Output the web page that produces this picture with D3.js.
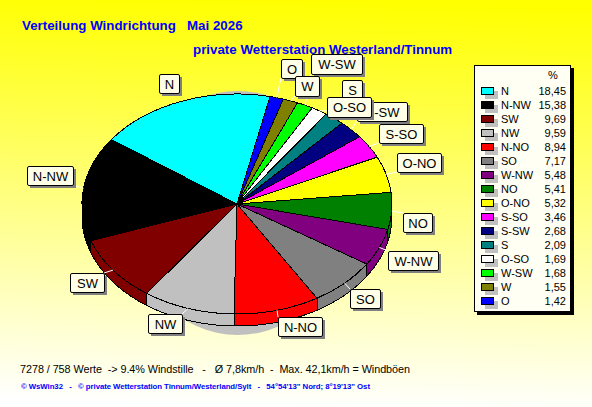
<!DOCTYPE html>
<html><head><meta charset="utf-8">
<script src="https://cdn.jsdelivr.net/npm/d3@7/dist/d3.min.js"></script>
<style>
html,body{margin:0;padding:0;background:#fff}
svg{display:block}
text{font-family:"Liberation Sans",Arial,sans-serif}
</style></head><body>
<svg id="c" width="592" height="407"></svg>
<script>
const directions = ["N","N-NW","SW","NW","N-NO","SO","W-NW","NO","O-NO","S-SO","S-SW","S","O-SO","W-SW","W","O"];
const shares = [18.45,15.38,9.69,9.59,8.94,7.17,5.48,5.41,5.32,3.46,2.68,2.09,1.69,1.68,1.55,1.42];
const sliceColors = ["#00FFFF","#000000","#800000","#C0C0C0","#FF0000","#808080","#800080","#008000","#FFFF00","#FF00FF","#000080","#008080","#FFFFFF","#00FF00","#808000","#0000FF"];
const titleText = "Verteilung Windrichtung   Mai 2026";
const subtitleText = "private Wetterstation Westerland/Tinnum";
const statsText = "7278 / 758 Werte  -> 9.4% Windstille   -   Ø 7,8km/h  -  Max. 42,1km/h = Windböen";
const footerText = "© WsWin32   -   © private Wetterstation Tinnum/Westerland/Sylt   -   54°54'13\" Nord; 8°19'13\" Ost";

// label box layout: x, y, w, h per direction
const labelBoxes = {
  "N":[159,74,20,19],"N-NW":[27,166,46,19],"SW":[70,273,34,19],"NW":[148,314,34,19],
  "N-NO":[278,317,44,19],"SO":[350,289,30,19],"W-NW":[388,251,50,19],"NO":[403,213,29,19],
  "O-NO":[397,153,44,19],"S-SO":[379,124,44,19],"S-SW":[357,102,50,19],"S":[342,80,20,20],
  "O-SO":[327,97,44,20],"W-SW":[311,54,51,20],"W":[295,76,24,20],"O":[281,59,21,19]
};
const labelOrder = ["N","N-NW","SW","NW","N-NO","SO","W-NW","NO","O-NO","S-SO","S-SW","S","W-SW","O","W","O-SO"];
const noLeader = ["N"];

const W = 592, H = 407;
const cx = 237, cy = 204, rx = 155, ry = 110, depth = 12;
const startA = 12.3 * Math.PI / 180;

const svg = d3.select("#c");
const defs = svg.append("defs");
const grad = defs.append("linearGradient").attr("id","bg").attr("x1",0.52).attr("y1",0).attr("x2",0.48).attr("y2",1);
grad.append("stop").attr("offset",0).attr("stop-color","#FFFF00");
grad.append("stop").attr("offset",1).attr("stop-color","#FFFFFF");
svg.append("rect").attr("width",W).attr("height",H).attr("fill","url(#bg)");

// titles
svg.append("text").attr("x",22).attr("y",30).attr("fill","#0000FF").attr("font-size",13.33).attr("font-weight","bold").attr("xml:space","preserve").text(titleText);
svg.append("text").attr("x",193).attr("y",54).attr("fill","#0000FF").attr("font-size",13.33).attr("font-weight","bold").text(subtitleText);

// pie drop shadow
svg.append("ellipse").attr("cx",238).attr("cy",213).attr("rx",110).attr("ry",122).attr("fill","#C0C0C0");

const pie = d3.pie().sort(null).value(d => d.v).startAngle(startA).endAngle(startA - 2*Math.PI);
const arcs = pie(directions.map((n,i)=>({n,v:shares[i],c:sliceColors[i]})));
const arcGen = d3.arc().innerRadius(0).outerRadius(rx);
const px = a => cx + rx*Math.sin(a);
const py = a => cy - ry*Math.cos(a);

// extruded rim (lower half only)
const rim = svg.append("g").attr("shape-rendering","crispEdges");
arcs.forEach(d => {
  const hi = Math.max(d.startAngle,d.endAngle), lo = Math.min(d.startAngle,d.endAngle);
  const a0 = Math.max(lo, -3*Math.PI/2), a1 = Math.min(hi, -Math.PI/2);
  if (a1 > a0) {
    const n = Math.max(2,Math.ceil((a1-a0)*60));
    const as = d3.range(n+1).map(i=>a0+(a1-a0)*i/n);
    const top = as.map(a=>[px(a),py(a)]);
    const bot = as.slice().reverse().map(a=>[px(a),py(a)+depth]);
    rim.append("path").attr("d",d3.line()(top.concat(bot))+"Z").attr("fill",d.data.c).attr("stroke","#000").attr("stroke-width",1);
  }
});

// top face
const topFace = svg.append("g").attr("transform",`translate(${cx},${cy}) scale(1,${ry/rx})`).attr("shape-rendering","crispEdges");
topFace.selectAll("path").data(arcs).join("path")
  .attr("d",arcGen).attr("fill",d=>d.data.c).attr("stroke","#000").attr("stroke-width",1).attr("vector-effect","non-scaling-stroke");

// leader lines
const leaders = svg.append("g");
arcs.filter(d=>!noLeader.includes(d.data.n)).forEach(d=>{
  const m = (d.startAngle+d.endAngle)/2, b = labelBoxes[d.data.n];
  const x0 = px(m), y0 = py(m);
  const x1 = Math.max(b[0],Math.min(b[0]+b[2],x0)), y1 = Math.max(b[1],Math.min(b[1]+b[3],y0));
  leaders.append("line").attr("x1",x0).attr("y1",y0).attr("x2",x1).attr("y2",y1).attr("stroke","#fff").attr("stroke-width",1);
});

// labels
const labelG = svg.append("g");
labelOrder.forEach(n=>{
  const b = labelBoxes[n];
  const g = labelG.append("g");
  g.append("rect").attr("x",b[0]+3).attr("y",b[1]+3).attr("width",b[2]).attr("height",b[3]).attr("fill","#808080");
  g.append("rect").attr("x",b[0]+.5).attr("y",b[1]+.5).attr("width",b[2]).attr("height",b[3]).attr("rx",1.5).attr("fill","#FFFFE8").attr("stroke","#000");
  g.append("text").attr("x",b[0]+b[2]/2+.5).attr("y",b[1]+b[3]/2+5).attr("text-anchor","middle").attr("font-size",13).attr("fill","#000").text(n);
});

// legend
const lx=474, ly=65, lw=97, lh=247;
svg.append("rect").attr("x",lx+3).attr("y",ly+3).attr("width",lw).attr("height",lh).attr("fill","#000");
svg.append("rect").attr("x",lx+.5).attr("y",ly+.5).attr("width",lw-1).attr("height",lh-1).attr("fill","#FFFFF4").attr("stroke","#000");
svg.append("text").attr("x",553).attr("y",79).attr("text-anchor","middle").attr("font-size",11).text("%");
const rowY = d3.scalePoint().domain(directions).range([91,301]);
const fmt = d3.formatLocale({decimal:",",thousands:".",grouping:[3],currency:["","€"]}).format(".2f");
const legend = svg.append("g").selectAll("g").data(arcs).join("g").attr("transform",d=>`translate(0,${rowY(d.data.n)})`);
legend.append("rect").attr("x",485).attr("y",0).attr("width",13).attr("height",8).attr("fill","#C0C0C0");
legend.append("rect").attr("x",481.5).attr("y",-3.5).attr("width",12).attr("height",7).attr("fill",d=>d.data.c).attr("stroke","#000");
legend.append("text").attr("x",501).attr("y",4).attr("font-size",11).text(d=>d.data.n);
legend.append("text").attr("x",566).attr("y",4).attr("text-anchor","end").attr("font-size",11).text(d=>fmt(d.data.v));

// footer
svg.append("text").attr("x",20).attr("y",373).attr("font-size",10.8).attr("fill","#000").attr("xml:space","preserve").attr("textLength",390).attr("lengthAdjust","spacing").text(statsText);
svg.append("text").attr("x",21).attr("y",389).attr("font-size",7.8).attr("font-weight","bold").attr("fill","#0000FF").attr("xml:space","preserve").attr("textLength",349).attr("lengthAdjust","spacing").text(footerText);
</script>
</body></html>
